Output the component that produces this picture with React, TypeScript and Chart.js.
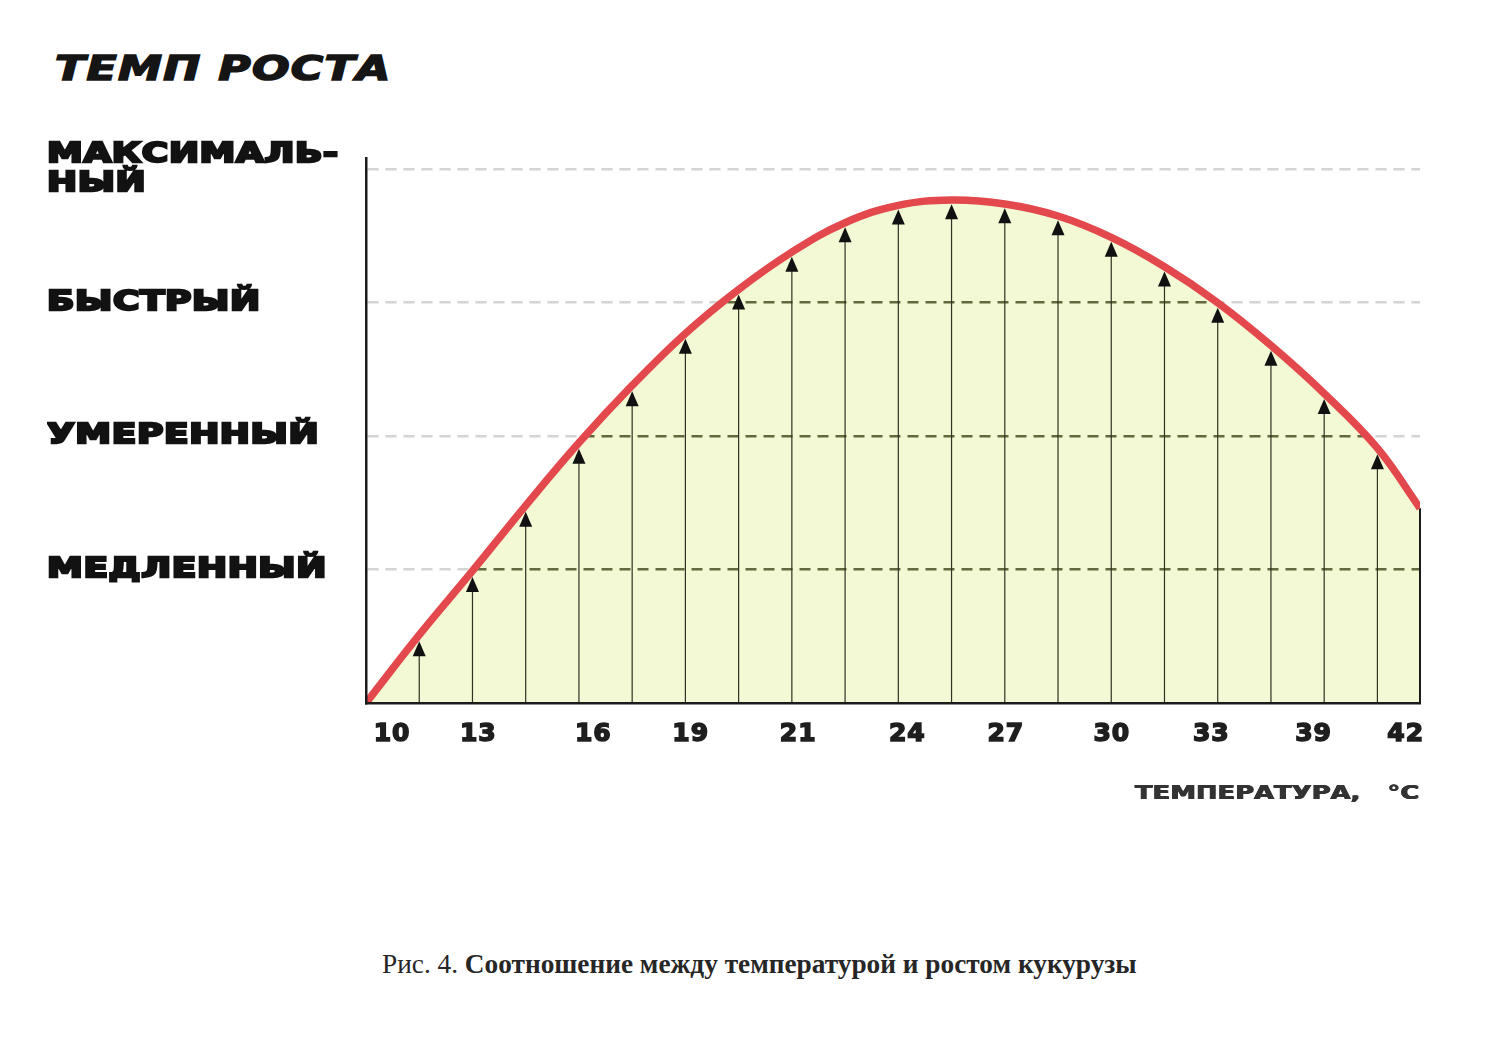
import React, { useEffect, useRef } from "react";
import { Chart, registerables } from "chart.js";

Chart.register(...registerables);

// Stations along the temperature axis (vertical arrows), last one is the right edge
const stations = [0, 1, 2, 3, 4, 5, 6, 7, 8, 9, 10, 11, 12, 13, 14, 15, 16, 17, 18, 19, 19.8];
// Growth rate (1 = slow, 2 = moderate, 3 = fast, 4 = maximal)
const growth = [0, 0.51, 0.99, 1.48, 1.95, 2.38, 2.77, 3.1, 3.38, 3.6, 3.73, 3.77, 3.74, 3.65, 3.49, 3.27, 3.0, 2.68, 2.32, 1.91, 1.46];

const levelValues = [1, 2, 3, 4];
const levelLabels: (string | string[])[] = ["МЕДЛЕННЫЙ", "УМЕРЕННЫЙ", "БЫСТРЫЙ", ["МАКСИМАЛЬ-", "НЫЙ"]];

const tempLabels = ["10", "13", "16", "19", "21", "24", "27", "30", "33", "39", "42"];
const tempPositions = [0.49, 2.11, 4.27, 6.1, 8.12, 10.17, 12.02, 14.01, 15.88, 17.8, 19.53];

const chartTitle = "ТЕМП РОСТА";
const xTitle = "ТЕМПЕРАТУРА,   °C";
const captionLead = "Рис. 4. ";
const captionText = "Соотношение между температурой и ростом кукурузы";

const stemsPlugin = {
  id: "stems",
  beforeDatasetDraw(chart: any, args: any) {
    if (args.index !== 0) return;
    const pts = chart.getDatasetMeta(0).data;
    const ctx = chart.ctx;
    const y0 = chart.scales.y.getPixelForValue(0);
    ctx.save();
    for (let i = 1; i < pts.length; i++) {
      const p = pts[i];
      const prev = pts[i - 1];
      const next = pts[Math.min(i + 1, pts.length - 1)];
      const slope = (next.y - prev.y) / (next.x - prev.x || 1);
      const last = i === pts.length - 1;
      const off = last ? 0 : 3.6 * Math.sqrt(1 + slope * slope) + 0.5;
      const tip = p.y + off;
      ctx.strokeStyle = last ? "#1b1b1b" : "#2c3322";
      ctx.lineWidth = last ? 2 : 1.2;
      ctx.beginPath();
      ctx.moveTo(p.x, y0);
      ctx.lineTo(p.x, last ? tip : tip + 8);
      ctx.stroke();
      if (!last) {
        ctx.fillStyle = "#111";
        ctx.beginPath();
        ctx.moveTo(p.x, tip);
        ctx.lineTo(p.x - 6.5, tip + 15);
        ctx.lineTo(p.x + 6.5, tip + 15);
        ctx.closePath();
        ctx.fill();
      }
    }
    ctx.restore();
  },
};

const proto: any = (Chart as any).registry.getScale("linear").prototype;

function wrapY(scale: any) {
  scale.width = 319;
  if (scale.__wrapped) return;
  scale.__wrapped = true;
  scale.drawLabels = function (area: any) {
    const ctx = this.ctx;
    ctx.save();
    ctx.letterSpacing = "0.5px";
    ctx.translate(this.left, 0);
    ctx.scale(1.33, 1);
    ctx.translate(-this.left, 0);
    proto.drawLabels.call(this, area);
    ctx.restore();
  };
}

function wrapX(scale: any) {
  scale.height = 110;
  if (scale.__wrapped) return;
  scale.__wrapped = true;
  scale.drawLabels = function (area: any) {
    const ctx = this.ctx;
    ctx.save();
    ctx.letterSpacing = "1px";
    proto.drawLabels.call(this, area);
    ctx.restore();
  };
  scale.drawTitle = function () {
    const ctx = this.ctx;
    ctx.save();
    ctx.translate(this.right, 0);
    ctx.scale(1.36, 1);
    ctx.translate(-this.right, 0);
    proto.drawTitle.call(this);
    ctx.translate(-0.9, 0);
    proto.drawTitle.call(this);
    ctx.translate(0, 0.6);
    proto.drawTitle.call(this);
    ctx.restore();
  };
}

export default function App() {
  const ref = useRef<HTMLCanvasElement | null>(null);

  useEffect(() => {
    if (!ref.current) return;
    const points = stations.map((x, i) => ({ x, y: growth[i] }));
    const chart = new Chart(ref.current, {
      type: "line",
      data: {
        datasets: [
          {
            label: "curve",
            data: points,
            order: 0,
            borderColor: "#e3484c",
            borderWidth: 7.5,
            backgroundColor: "rgba(214,235,120,0.32)",
            fill: "origin",
            pointRadius: 0,
            tension: 0.4,
          },
          {
            label: "overlay",
            data: points,
            order: 1,
            borderWidth: 0,
            borderColor: "rgba(0,0,0,0)",
            backgroundColor: "rgba(255,255,255,0.8)",
            fill: "end",
            pointRadius: 0,
            tension: 0.4,
          },
        ],
      },
      options: {
        animation: false,
        responsive: false,
        devicePixelRatio: 1,
        layout: { padding: { top: 158, left: 47, right: 85, bottom: 0 } },
        plugins: {
          legend: { display: false },
          tooltip: { enabled: false },
          title: { display: false },
        },
        scales: {
          x: {
            type: "linear",
            min: 0,
            max: 19.8,
            grid: { display: false, drawTicks: false },
            border: { display: true, color: "#1b1b1b", width: 2.5, z: 1 },
            afterBuildTicks: (s: any) => {
              s.ticks = tempPositions.map((v) => ({ value: v }));
            },
            afterFit: wrapX,
            ticks: {
              autoSkip: false,
              maxRotation: 0,
              padding: 16,
              color: "#1e1e1e",
              textStrokeColor: "#1e1e1e",
              textStrokeWidth: 1.6,
              font: { family: "DejaVu Sans", weight: "bold", size: 25 },
              callback: (_v: any, i: number) => tempLabels[i],
            },
            title: {
              display: true,
              text: xTitle,
              align: "end",
              color: "#333333",
              font: { family: "DejaVu Sans", weight: "bold", size: 19 },
              padding: { top: 0, bottom: 8 },
            },
          },
          y: {
            type: "linear",
            min: 0,
            max: 4.085,
            grid: { color: "#2c2c22", lineWidth: 2.6, drawTicks: false },
            border: { display: true, color: "#1b1b1b", width: 2.5, dash: [11, 7], z: 1 },
            afterBuildTicks: (s: any) => {
              s.ticks = levelValues.map((v) => ({ value: v }));
            },
            afterFit: wrapY,
            ticks: {
              crossAlign: "far",
              padding: 0,
              color: "#121212",
              textStrokeColor: "#121212",
              textStrokeWidth: 2.4,
              font: { family: "DejaVu Sans", weight: "bold", size: 27, lineHeight: 1.07 },
              callback: (_v: any, i: number) => levelLabels[i],
            },
          },
        },
      } as any,
      plugins: [stemsPlugin],
    });
    return () => chart.destroy();
  }, []);

  return (
    <div style={{ position: "absolute", left: 0, top: 0, width: 1505, height: 1042, background: "#fff" }}>
      <div
        style={{
          position: "absolute",
          left: 55,
          top: 51,
          fontFamily: "DejaVu Sans",
          fontWeight: "bold",
          fontStyle: "italic",
          fontSize: 34,
          lineHeight: 1,
          letterSpacing: 1,
          color: "#151515",
          WebkitTextStroke: "1.6px #151515",
          transform: "scaleX(1.3)",
          transformOrigin: "left top",
          whiteSpace: "nowrap",
        }}
      >
        {chartTitle}
      </div>
      <canvas ref={ref} width={1505} height={813} style={{ position: "absolute", left: 0, top: 0 }} />
      <div
        style={{
          position: "absolute",
          left: 382,
          top: 951,
          fontFamily: "Liberation Serif",
          fontSize: 27.3,
          lineHeight: 1,
          color: "#262626",
          whiteSpace: "nowrap",
        }}
      >
        <span>{captionLead}</span>
        <span style={{ fontWeight: "bold" }}>{captionText}</span>
      </div>
    </div>
  );
}
